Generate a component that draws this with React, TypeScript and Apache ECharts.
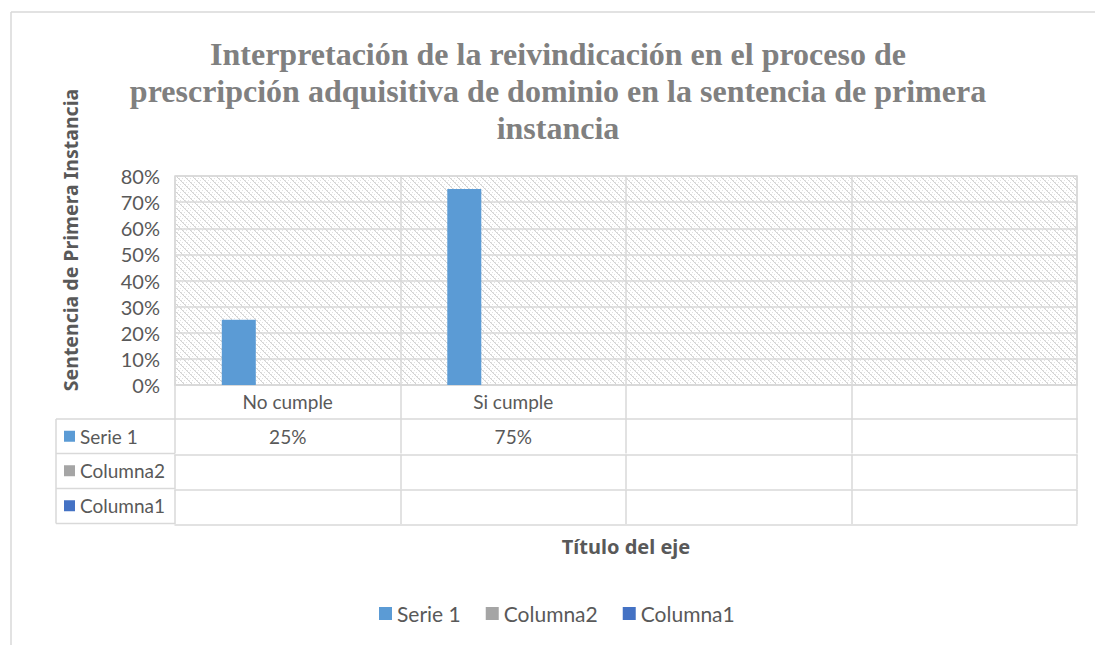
import React, { useEffect, useRef } from "react";
import * as echarts from "echarts";

const categories = ["No cumple", "Si cumple", "", ""];
const serie1 = [0.25, 0.75, null, null];
const columna2 = [null, null, null, null];
const columna1 = [null, null, null, null];
const seriesNames = ["Serie 1", "Columna2", "Columna1"];
const seriesColors = ["#5b9bd5", "#a5a5a5", "#4472c4"];
const titleText =
  "Interpretación de la reivindicación en el proceso de\nprescripción adquisitiva de dominio en la sentencia de primera\ninstancia";
const yTitle = "Sentencia de Primera Instancia";
const xTitle = "Título del eje";

const fmt = (v: number | null) => (v == null ? "" : Math.round(v * 100) + "%");

function makePattern(): string {
  const c = document.createElement("canvas");
  c.width = 8;
  c.height = 8;
  const ctx = c.getContext("2d")!;
  ctx.fillStyle = "#ffffff";
  ctx.fillRect(0, 0, 8, 8);
  for (let i = 0; i < 8; i++) {
    ctx.fillStyle = "#d2d2d2";
    ctx.fillRect(i, i, 1, 1);
    if (i % 2 === 0) {
      ctx.fillStyle = "#e2e2e2";
      ctx.fillRect((i + 1) % 8, i, 1, 1);
      ctx.fillRect((i + 4) % 8, i, 1, 1);
    }
  }
  return c.toDataURL();
}

export default function App() {
  const ref = useRef<HTMLDivElement>(null);
  useEffect(() => {
    if (!ref.current) return;
    const chart = echarts.init(ref.current, undefined, { renderer: "svg" });
    const font = "Lato";
    const boldFont = '"Noto Sans"';
    const gray = "#595959";
    const lineC = "#d9d9d9";
    const rowTops = [419, 453.5, 488.5];
    const rowH = 34.5;
    const allSeries = [serie1, columna2, columna1];

    const tableGraphics: any[] = [];
    [419, 453.5, 488.5, 523.5].forEach((y) =>
      tableGraphics.push({
        type: "line",
        shape: { x1: 56, y1: y, x2: 175, y2: y },
        style: { stroke: lineC, lineWidth: 1.5 },
      })
    );
    tableGraphics.push({
      type: "line",
      shape: { x1: 56, y1: 419, x2: 56, y2: 523.5 },
      style: { stroke: lineC, lineWidth: 1.5 },
    });
    seriesNames.forEach((n, i) => {
      const cy = rowTops[i] + rowH / 2;
      tableGraphics.push({
        type: "rect",
        shape: { x: 64, y: cy - 5.5, width: 11, height: 11 },
        style: { fill: seriesColors[i] },
      });
      tableGraphics.push({
        type: "text",
        x: 80,
        y: cy,
        style: {
          text: n,
          fill: gray,
          font: `19px ${font}`,
          textAlign: "left",
          textVerticalAlign: "middle",
        },
      });
    });

    const tableAxis = (offset: number, data: string[], ticks: boolean) => ({
      type: "category",
      position: "bottom",
      offset,
      data,
      axisLine: { show: true, lineStyle: { color: lineC, width: 1.5 } },
      axisTick: { show: ticks, length: 34.5, interval: 0, lineStyle: { color: lineC, width: 1.5 } },
      axisLabel: { show: true, interval: 0, margin: 8, color: gray, fontFamily: font, fontSize: 19 },
      splitLine: { show: false },
    });

    chart.setOption({
      animation: false,
      grid: {
        left: 175,
        right: 18,
        top: 176,
        bottom: 260,
        show: true,
        borderColor: lineC,
        borderWidth: 1.5,
        backgroundColor: { image: makePattern(), repeat: "repeat" },
      },
      legend: {
        data: seriesNames,
        left: 374,
        top: 598,
        itemWidth: 13,
        itemHeight: 13,
        itemGap: 25,
        icon: "rect",
        textStyle: { color: gray, fontFamily: font, fontSize: 21 },
      },
      xAxis: [
        {
          type: "category",
          data: categories,
          axisLine: { show: true, lineStyle: { color: lineC, width: 1.5 } },
          axisTick: { show: true, length: 34, interval: 0, lineStyle: { color: lineC, width: 1.5 } },
          axisLabel: { interval: 0, margin: 7, color: gray, fontFamily: font, fontSize: 19 },
          splitLine: { show: true, interval: 0, lineStyle: { color: lineC, width: 1.5 } },
        },
        tableAxis(34, serie1.map(fmt), true),
        tableAxis(69.5, columna2.map(fmt), true),
        tableAxis(104.5, columna1.map(fmt), true),
        { ...tableAxis(139.5, ["", "", "", ""], false), axisLabel: { show: false } },
      ],
      yAxis: {
        type: "value",
        min: 0,
        max: 0.8,
        interval: 0.1,
        axisLine: { show: false },
        axisTick: { show: false },
        axisLabel: {
          margin: 15,
          color: gray,
          fontFamily: font,
          fontSize: 20,
          formatter: (v: number) => Math.round(v * 100) + "%",
        },
        splitLine: { show: true, lineStyle: { color: lineC, width: 1.5 } },
      },
      series: allSeries.map((d, i) => ({
        name: seriesNames[i],
        type: "bar",
        data: d,
        barWidth: 34,
        barGap: "44%",
        itemStyle: { color: seriesColors[i] },
      })),
      graphic: [
        { type: "line", shape: { x1: 11, y1: 12, x2: 1095, y2: 12 }, style: { stroke: lineC, lineWidth: 1.5 } },
        { type: "line", shape: { x1: 11, y1: 12, x2: 11, y2: 645 }, style: { stroke: lineC, lineWidth: 1.5 } },
        {
          type: "text",
          x: 558,
          y: 35,
          style: {
            text: titleText,
            fill: "#808080",
            font: `bold 32px "Liberation Serif"`,
            textAlign: "center",
            textVerticalAlign: "top",
            lineHeight: 37,
          },
        },
        {
          type: "text",
          x: 70,
          y: 240,
          rotation: Math.PI / 2,
          style: {
            text: yTitle,
            fill: gray,
            font: `bold 19.5px ${boldFont}`,
            textAlign: "center",
            textVerticalAlign: "middle",
          },
        },
        {
          type: "text",
          x: 626,
          y: 546,
          style: {
            text: xTitle,
            fill: gray,
            font: `bold 20px ${boldFont}`,
            textAlign: "center",
            textVerticalAlign: "middle",
          },
        },
        ...tableGraphics,
      ],
    });
    return () => chart.dispose();
  }, []);
  return (
    <div
      ref={ref}
      style={{ position: "absolute", left: 0, top: 0, width: 1095, height: 645, background: "#fff" }}
    />
  );
}
